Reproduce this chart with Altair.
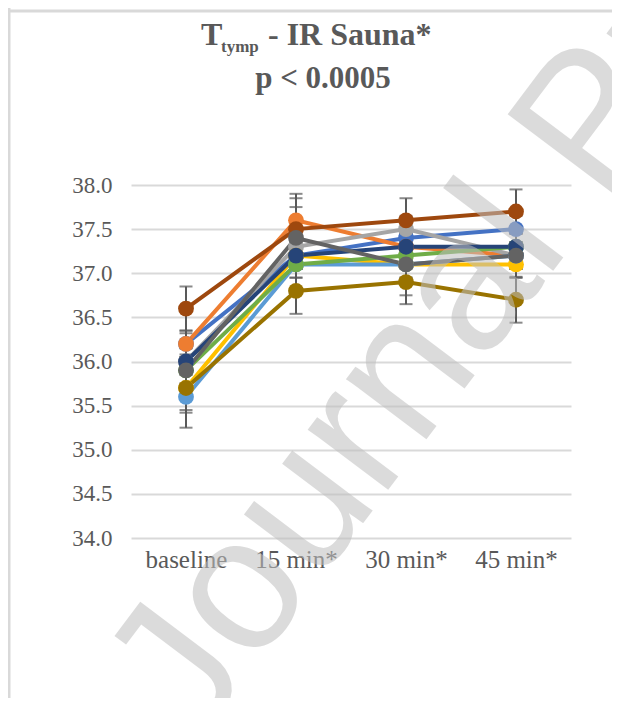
import altair as alt
import pandas as pd

times = ["baseline", "15 min*", "30 min*", "45 min*"]
series_names = ["S1", "S2", "S3", "S4", "S5", "S6", "S7", "S8", "S9", "S10"]
colors = ["#4472C4", "#ED7D31", "#A5A5A5", "#FFC000", "#5B9BD5",
          "#70AD47", "#264478", "#9E480E", "#636363", "#997300"]

s1 = [36.2, 37.2, 37.4, 37.5]
s2 = [36.2, 37.6, 37.3, 37.2]
s3 = [36.0, 37.3, 37.5, 37.2]
s4 = [35.7, 37.2, 37.1, 37.1]
s5 = [35.6, 37.1, 37.1, 37.2]
s6 = [35.9, 37.1, 37.2, 37.3]
s7 = [36.0, 37.2, 37.3, 37.3]
s8 = [36.6, 37.5, 37.6, 37.7]
s9 = [35.9, 37.4, 37.1, 37.2]
s10 = [35.7, 36.8, 36.9, 36.7]
values = [s1, s2, s3, s4, s5, s6, s7, s8, s9, s10]

e1 = [0.15, 0.15, 0.15, 0.15]
e2 = [0.12, 0.30, 0.15, 0.15]
e3 = [0.15, 0.15, 0.15, 0.15]
e4 = [0.28, 0.15, 0.15, 0.15]
e5 = [0.35, 0.15, 0.15, 0.25]
e6 = [0.15, 0.15, 0.15, 0.15]
e7 = [0.15, 0.15, 0.15, 0.15]
e8 = [0.25, 0.35, 0.25, 0.25]
e9 = [0.15, 0.35, 0.35, 0.15]
e10 = [0.25, 0.26, 0.25, 0.26]
errors = [e1, e2, e3, e4, e5, e6, e7, e8, e9, e10]

y_ticks = [34.0, 34.5, 35.0, 35.5, 36.0, 36.5, 37.0, 37.5, 38.0]

rows = []
for name, vals, errs in zip(series_names, values, errors):
    for i, (t, v, e) in enumerate(zip(times, vals, errs)):
        rows.append({"series": name, "time": t, "idx": i, "value": v,
                     "lo": round(v - e, 3), "hi": round(v + e, 3)})
df = pd.DataFrame(rows)

FONT = "Liberation Serif"
TXT = "#595959"

x_enc = alt.X("time:N", sort=times, title=None,
              scale=alt.Scale(type="point", padding=0.5),
              axis=alt.Axis(labelAngle=0, labelFont=FONT, labelFontSize=25,
                            labelColor=TXT, ticks=False, domain=False,
                            labelPadding=9, grid=False))
y_scale = alt.Scale(domain=[34, 38], nice=False, zero=False)
color_enc = alt.Color("series:N", sort=series_names,
                      scale=alt.Scale(domain=series_names, range=colors),
                      legend=None)

base = alt.Chart(df)

err_rule = base.mark_rule(color="#595959", strokeWidth=2).encode(
    x=x_enc,
    y=alt.Y("lo:Q", scale=y_scale, title=None,
            axis=alt.Axis(values=y_ticks, format=".1f", labelFont=FONT,
                          labelFontSize=23, labelColor=TXT, ticks=False,
                          domain=False, labelPadding=19, gridColor="#d9d9d9",
                          gridWidth=2)),
    y2="hi:Q",
)
cap_lo = base.mark_tick(color="#595959", thickness=2, size=13, orient="horizontal").encode(
    x=x_enc, y=alt.Y("lo:Q", scale=y_scale))
cap_hi = base.mark_tick(color="#595959", thickness=2, size=13, orient="horizontal").encode(
    x=x_enc, y=alt.Y("hi:Q", scale=y_scale))

lines = base.mark_line(strokeWidth=4).encode(
    x=x_enc, y=alt.Y("value:Q", scale=y_scale), color=color_enc,
    order=alt.Order("idx:Q"),
)
points = base.mark_point(filled=True, size=250, opacity=1).encode(
    x=x_enc, y=alt.Y("value:Q", scale=y_scale), color=color_enc)

title_df = pd.DataFrame({"a": [0]})
tb = alt.Chart(title_df)
t_T = tb.mark_text(text="T", font=FONT, fontSize=32, fontWeight="bold",
                   color=TXT, align="left", baseline="alphabetic").encode(
    x=alt.value(70), y=alt.value(-140))
t_sub = tb.mark_text(text="tymp", font=FONT, fontSize=17, fontWeight="bold",
                     color=TXT, align="left", baseline="alphabetic").encode(
    x=alt.value(90), y=alt.value(-133))
t_rest = tb.mark_text(text="- IR Sauna*", font=FONT, fontSize=32, fontWeight="bold",
                      color=TXT, align="left", baseline="alphabetic").encode(
    x=alt.value(137), y=alt.value(-140))
t_p = tb.mark_text(text="p < 0.0005", font=FONT, fontSize=31, fontWeight="bold",
                   color=TXT, align="center", baseline="alphabetic").encode(
    x=alt.value(192), y=alt.value(-97))

frame_left = tb.mark_rule(color="#d9d9d9", strokeWidth=3).encode(
    x=alt.value(-122), y=alt.value(-177), y2=alt.value(521))
frame_top = tb.mark_rule(color="#d9d9d9", strokeWidth=3).encode(
    x=alt.value(-123), x2=alt.value(489), y=alt.value(-174))

watermark = tb.mark_text(text="Journal Pre-proof", font="Liberation Sans",
                         fontSize=190, color="#bfbfbf", opacity=0.55,
                         align="left", baseline="alphabetic", angle=307).encode(
    x=alt.value(65), y=alt.value(560))

chart = alt.layer(
    err_rule, cap_lo, cap_hi, lines, points,
    t_T, t_sub, t_rest, t_p, frame_left, frame_top, watermark
).properties(
    width=440, height=353,
    autosize=alt.AutoSizeParams(type="none"),
    padding={"left": 123, "top": 177, "right": 41, "bottom": 160},
).configure_view(stroke=None)

chart.save("out.html", embed_options={"renderer": "svg", "actions": False})
